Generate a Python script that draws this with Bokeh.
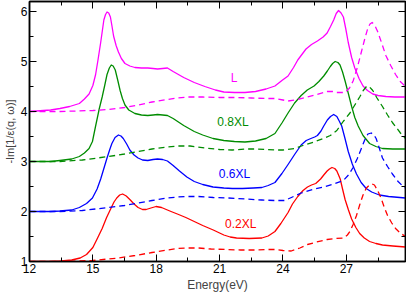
from bokeh.plotting import figure
from bokeh.models import Range1d, FixedTicker, LinearAxis, Label
from bokeh.embed import file_html
from bokeh.resources import INLINE

# ---- data ----
r_x = [12, 13, 13.5, 14.0, 14.4, 14.7, 15.0, 15.2, 15.44, 15.65, 15.83, 16.0, 16.13, 16.27, 16.41, 16.58, 16.75, 16.95, 17.14, 17.35, 17.52, 17.75, 17.99, 18.25, 18.53, 18.7, 19.0, 19.4, 19.8, 20.2, 20.7, 21.2, 21.5, 21.8, 22.4, 23.0, 23.3, 23.62, 23.9, 24.24, 24.45, 24.7, 24.95, 25.16, 25.35, 25.55, 25.78, 25.95, 26.09, 26.2, 26.32, 26.45, 26.55, 26.71, 26.82, 26.94, 27.1, 27.25, 27.45, 27.63, 27.85, 28.1, 28.4, 28.71, 29.2, 29.8]
r_y = [1.0, 1.0, 1.01, 1.03, 1.07, 1.14, 1.28, 1.45, 1.66, 1.88, 2.04, 2.19, 2.27, 2.33, 2.35, 2.31, 2.24, 2.15, 2.08, 2.04, 2.04, 2.07, 2.1, 2.08, 2.03, 2.0, 1.95, 1.88, 1.8, 1.72, 1.63, 1.53, 1.49, 1.47, 1.46, 1.47, 1.51, 1.6, 1.76, 1.98, 2.15, 2.3, 2.42, 2.49, 2.53, 2.56, 2.65, 2.74, 2.81, 2.85, 2.88, 2.86, 2.81, 2.65, 2.45, 2.24, 2.03, 1.85, 1.68, 1.56, 1.47, 1.4, 1.36, 1.33, 1.31, 1.29]

rd_x = [12, 13.5, 15, 16.2, 17.0, 17.8, 18.53, 19.0, 19.5, 20.0, 20.6, 21.3, 22.0, 22.8, 23.2, 23.62, 24.0, 24.39, 24.8, 25.16, 25.6, 26.09, 26.5, 26.86, 27.05, 27.17, 27.32, 27.48, 27.63, 27.79, 27.95, 28.1, 28.22, 28.33, 28.48, 28.64, 28.8, 28.95, 29.15, 29.33, 29.55, 29.8]
rd_y = [1.0, 1.0, 1.02, 1.07, 1.12, 1.18, 1.23, 1.26, 1.27, 1.27, 1.25, 1.24, 1.23, 1.23, 1.24, 1.24, 1.22, 1.21, 1.27, 1.34, 1.39, 1.44, 1.46, 1.47, 1.53, 1.6, 1.74, 1.92, 2.13, 2.33, 2.47, 2.53, 2.55, 2.53, 2.42, 2.27, 2.08, 1.92, 1.77, 1.66, 1.57, 1.5]

b_x = [12, 13, 13.44, 14.0, 14.36, 14.7, 14.98, 15.2, 15.37, 15.52, 15.67, 15.8, 15.9, 16.05, 16.21, 16.33, 16.44, 16.6, 16.75, 16.95, 17.14, 17.35, 17.6, 17.85, 18.06, 18.3, 18.53, 18.8, 19.1, 19.45, 19.8, 20.2, 20.69, 21.2, 21.6, 22.08, 22.6, 23.0, 23.3, 23.62, 23.95, 24.24, 24.55, 24.86, 25.1, 25.32, 25.5, 25.63, 25.8, 25.93, 26.1, 26.25, 26.4, 26.55, 26.65, 26.78, 26.93, 27.09, 27.28, 27.48, 27.7, 27.94, 28.2, 28.56, 29.0, 29.8]
b_y = [2.0, 2.0, 2.01, 2.03, 2.08, 2.16, 2.27, 2.45, 2.65, 2.86, 3.07, 3.24, 3.36, 3.48, 3.53, 3.51, 3.46, 3.35, 3.23, 3.13, 3.07, 3.03, 3.02, 3.04, 3.05, 3.04, 3.01, 2.92, 2.81, 2.69, 2.6, 2.54, 2.49, 2.47, 2.46, 2.46, 2.47, 2.48, 2.52, 2.58, 2.76, 2.94, 3.14, 3.33, 3.42, 3.46, 3.49, 3.52, 3.61, 3.71, 3.83, 3.9, 3.94, 3.9, 3.82, 3.71, 3.47, 3.2, 2.95, 2.75, 2.58, 2.46, 2.39, 2.33, 2.3, 2.27]

bd_x = [12, 13.44, 14.5, 15.75, 16.5, 17.14, 17.8, 18.53, 19.0, 19.5, 20.0, 20.7, 21.4, 22.2, 23.0, 23.62, 24.08, 24.45, 24.86, 25.4, 25.93, 26.4, 26.86, 27.1, 27.32, 27.52, 27.71, 27.87, 28.02, 28.18, 28.3, 28.41, 28.55, 28.71, 28.95, 29.18, 29.45, 29.71, 29.8]
bd_y = [2.0, 2.0, 2.02, 2.08, 2.12, 2.17, 2.22, 2.27, 2.29, 2.3, 2.3, 2.28, 2.27, 2.25, 2.23, 2.22, 2.22, 2.29, 2.37, 2.44, 2.49, 2.55, 2.62, 2.73, 2.88, 3.06, 3.26, 3.43, 3.55, 3.57, 3.53, 3.46, 3.28, 3.07, 2.9, 2.75, 2.6, 2.49, 2.47]

g_x = [12, 13, 13.44, 14.0, 14.36, 14.6, 14.82, 14.98, 15.13, 15.3, 15.44, 15.56, 15.67, 15.78, 15.87, 15.96, 16.06, 16.17, 16.29, 16.4, 16.52, 16.7, 16.99, 17.3, 17.6, 17.85, 18.06, 18.3, 18.53, 18.8, 19.3, 19.8, 20.2, 20.69, 21.2, 21.7, 22.2, 22.7, 23.2, 23.62, 23.95, 24.24, 24.55, 24.86, 25.15, 25.47, 25.7, 25.93, 26.1, 26.24, 26.35, 26.47, 26.6, 26.7, 26.82, 26.94, 27.1, 27.25, 27.4, 27.56, 27.79, 28.1, 28.4, 28.71, 29.2, 29.8]
g_y = [3.0, 3.0, 3.02, 3.05, 3.1, 3.17, 3.26, 3.4, 3.71, 4.05, 4.29, 4.52, 4.74, 4.87, 4.93, 4.91, 4.83, 4.64, 4.42, 4.26, 4.13, 4.03, 3.96, 3.93, 3.92, 3.93, 3.94, 3.93, 3.92, 3.86, 3.72, 3.6, 3.53, 3.46, 3.42, 3.4, 3.39, 3.41, 3.46, 3.56, 3.77, 3.97, 4.17, 4.32, 4.43, 4.51, 4.6, 4.71, 4.81, 4.9, 4.96, 5.0, 4.98, 4.93, 4.79, 4.61, 4.35, 4.1, 3.88, 3.71, 3.52, 3.36, 3.3, 3.26, 3.25, 3.25]

gd_x = [12, 13.44, 14.5, 15.75, 16.5, 17.14, 17.8, 18.53, 19.0, 19.6, 20.3, 21.0, 21.6, 22.3, 22.8, 23.2, 23.62, 24.0, 24.55, 25.0, 25.47, 25.9, 26.24, 26.55, 26.85, 27.17, 27.4, 27.63, 27.8, 27.97, 28.1, 28.25, 28.45, 28.71, 28.95, 29.18, 29.4, 29.56, 29.8]
gd_y = [3.0, 3.0, 3.03, 3.1, 3.15, 3.2, 3.25, 3.29, 3.31, 3.31, 3.27, 3.24, 3.23, 3.25, 3.25, 3.24, 3.23, 3.23, 3.26, 3.33, 3.39, 3.46, 3.52, 3.62, 3.8, 3.97, 4.13, 4.29, 4.42, 4.51, 4.49, 4.42, 4.27, 4.1, 3.93, 3.78, 3.66, 3.57, 3.46]

m_x = [12, 13.0, 13.44, 13.9, 14.36, 14.6, 14.82, 15.0, 15.13, 15.25, 15.37, 15.45, 15.52, 15.6, 15.67, 15.75, 15.83, 15.9, 15.98, 16.1, 16.21, 16.35, 16.52, 16.75, 16.99, 17.3, 17.6, 17.85, 18.06, 18.3, 18.53, 18.8, 19.3, 19.8, 20.3, 20.8, 21.2, 21.7, 22.2, 22.7, 23.2, 23.62, 23.95, 24.24, 24.5, 24.7, 25.09, 25.35, 25.63, 25.9, 26.09, 26.25, 26.4, 26.52, 26.63, 26.75, 26.86, 26.97, 27.09, 27.25, 27.4, 27.6, 27.79, 28.0, 28.25, 28.5, 28.87, 29.3, 29.8]
m_y = [4.0, 4.03, 4.06, 4.1, 4.16, 4.25, 4.35, 4.52, 4.74, 5.05, 5.38, 5.62, 5.83, 5.94, 5.99, 5.97, 5.89, 5.72, 5.51, 5.32, 5.19, 5.06, 4.96, 4.91, 4.88, 4.87, 4.87, 4.86, 4.85, 4.86, 4.87, 4.8, 4.68, 4.58, 4.5, 4.43, 4.39, 4.38, 4.38, 4.4, 4.45, 4.51, 4.62, 4.71, 4.88, 5.03, 5.25, 5.34, 5.41, 5.49, 5.57, 5.7, 5.83, 5.96, 6.02, 5.97, 5.89, 5.66, 5.38, 5.08, 4.87, 4.66, 4.51, 4.42, 4.35, 4.32, 4.3, 4.29, 4.29]

md_x = [12, 13.44, 15.0, 15.75, 16.5, 17.14, 17.8, 18.53, 19.0, 19.5, 20.2, 21.0, 21.8, 22.5, 23.2, 23.62, 24.0, 24.24, 24.7, 25.16, 25.6, 26.09, 26.35, 26.55, 26.94, 27.15, 27.32, 27.52, 27.71, 27.87, 28.02, 28.12, 28.22, 28.35, 28.48, 28.68, 28.87, 29.1, 29.33, 29.55, 29.8]
md_y = [4.0, 4.0, 4.02, 4.04, 4.08, 4.13, 4.19, 4.24, 4.27, 4.29, 4.29, 4.28, 4.28, 4.27, 4.26, 4.26, 4.23, 4.21, 4.24, 4.29, 4.34, 4.4, 4.4, 4.38, 4.38, 4.47, 4.61, 4.88, 5.19, 5.45, 5.67, 5.75, 5.78, 5.72, 5.6, 5.36, 5.12, 4.92, 4.74, 4.6, 4.5]

labels = ["L", "0.8XL", "0.6XL", "0.2XL"]
label_x = [21.68, 21.63, 21.7, 22.0]
label_y = [4.67, 3.79, 2.75, 1.75]

x_major = [12, 15, 18, 21, 24, 27]
x_minor = [13.5, 16.5, 19.5, 22.5, 25.5, 28.5]
y_major = [1, 2, 3, 4, 5, 6]
y_minor = [1.5, 2.5, 3.5, 4.5, 5.5]

RED, BLUE, GREEN, MAG = "#ff0000", "#0000ff", "#008c00", "#ff00ff"
FONT = "Liberation Sans"

p = figure(width=406, height=294, output_backend="svg", toolbar_location=None,
           x_range=Range1d(12, 29.8), y_range=Range1d(1, 6.2),
           min_border_left=4, min_border_right=1, min_border_top=1, min_border_bottom=2)
p.grid.visible = False
p.outline_line_color = "black"
p.outline_line_width = 1.5
p.background_fill_color = "white"

LW = 1.3
DASH = "6 4"
for xs, ys, c in [(r_x, r_y, RED), (b_x, b_y, BLUE), (g_x, g_y, GREEN), (m_x, m_y, MAG)]:
    p.line(xs, ys, line_color=c, line_width=LW, line_join="round")
for xs, ys, c in [(rd_x, rd_y, RED), (bd_x, bd_y, BLUE), (gd_x, gd_y, GREEN), (md_x, md_y, MAG)]:
    p.line(xs, ys, line_color=c, line_width=LW, line_dash=DASH, line_join="round")

for t, lx, ly, c in zip(labels, label_x, label_y, [MAG, GREEN, BLUE, RED]):
    p.add_layout(Label(x=lx, y=ly, text=t, text_color=c, text_font=FONT,
                       text_font_size="12px", text_align="center", text_baseline="middle"))

def style(ax, show, ticks):
    ax.axis_line_color = "black"
    ax.axis_line_width = 1.5
    ax.major_tick_in = 7
    ax.major_tick_out = 0
    ax.minor_tick_in = 4
    ax.minor_tick_out = 0
    ax.major_tick_line_color = "black"
    ax.minor_tick_line_color = "black"
    ax.major_label_text_font = FONT
    ax.major_label_text_color = "black"
    ax.major_label_text_font_size = "12px"
    ax.major_label_standoff = 2
    if not show:
        ax.major_label_overrides = {t: "" for t in ticks}
        ax.major_label_standoff = 0
    ax.axis_label_text_font = FONT
    ax.axis_label_text_font_size = "12px"
    ax.axis_label_text_font_style = "normal"
    ax.axis_label_standoff = 2

p.xaxis.ticker = FixedTicker(ticks=x_major, minor_ticks=x_minor)
p.yaxis.ticker = FixedTicker(ticks=y_major, minor_ticks=y_minor)
style(p.xaxis[0], True, x_major)
style(p.yaxis[0], True, y_major)
p.xaxis.axis_label = "Energy(eV)"
p.yaxis.axis_label = "-Im[1/\u03b5(q, \u03c9)]"
p.yaxis.axis_label_text_font_size = "11px"

top = LinearAxis(ticker=FixedTicker(ticks=x_major, minor_ticks=x_minor))
style(top, False, x_major)
p.add_layout(top, "above")
right = LinearAxis(ticker=FixedTicker(ticks=y_major, minor_ticks=y_minor))
style(right, False, y_major)
p.add_layout(right, "right")

open("out.html", "w").write(file_html(p, INLINE))
